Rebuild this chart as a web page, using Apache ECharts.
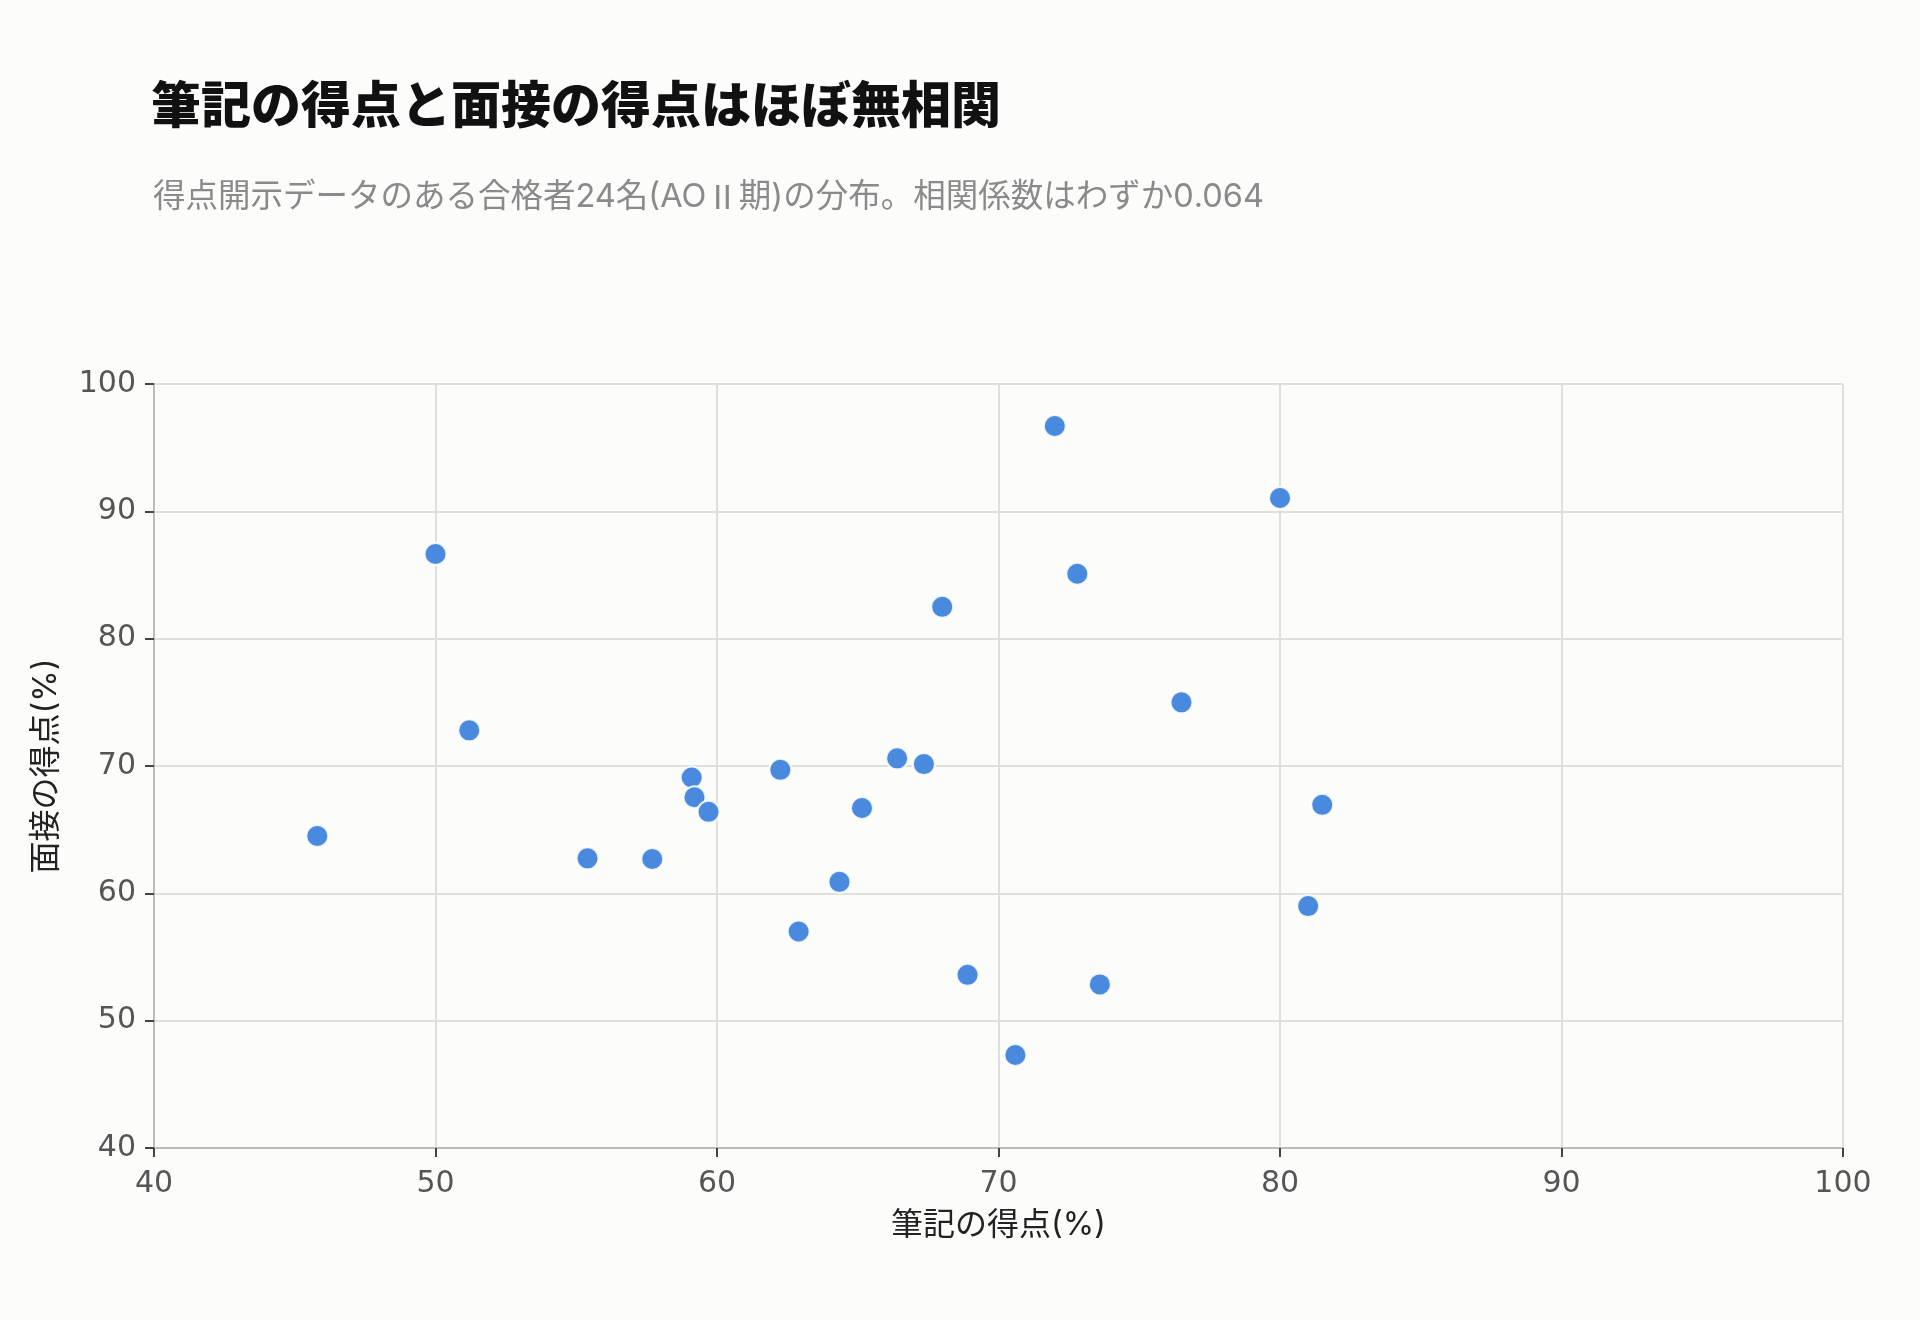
<!DOCTYPE html>
<html lang="ja">
<head>
<meta charset="utf-8">
<title>筆記と面接の得点</title>
<script src="https://cdn.jsdelivr.net/npm/echarts@6/dist/echarts.min.js"></script>
<style>
  html, body {
    margin: 0;
    padding: 0;
    background: #fcfcfa;
  }
  #chart {
    width: 1920px;
    height: 1320px;
  }
</style>
</head>
<body>
<div id="chart"></div>
<script>
// 筆記の得点(%) と 面接の得点(%)、合格者24名
const writtenScores = [
  72.0, 80.0, 50.0, 72.8, 68.0, 76.5, 51.2, 66.4,
  67.35, 62.25, 59.1, 59.2, 59.7, 81.5, 65.15, 45.8,
  55.4, 57.7, 64.35, 81.0, 62.9, 68.9, 73.6, 70.6
];
const interviewScores = [
  96.7, 91.05, 86.65, 85.1, 82.5, 75.0, 72.8, 70.6,
  70.15, 69.7, 69.1, 67.55, 66.4, 66.95, 66.7, 64.5,
  62.75, 62.7, 60.9, 59.0, 57.0, 53.6, 52.85, 47.3
];
const xTicks = [40, 100, 10];
const yTicks = [40, 100, 10];

const points = writtenScores.map((x, i) => [x, interviewScores[i]]);

const font = 'Inter, "Noto Sans CJK JP", sans-serif';
const cjkFont = '"Noto Sans CJK JP", sans-serif';
const numFont = '"DejaVu Sans", Inter, sans-serif';

const subStyle = { fontSize: 32.5, color: "#8a8a8a", lineHeight: 44 };

const option = {
  backgroundColor: "#fcfcfa",
  animation: false,
  textStyle: { fontFamily: font },
  title: [
    {
      text: "筆記の得点と面接の得点はほぼ無相関",
      left: 146,
      top: 74,
      textStyle: {
        fontFamily: cjkFont,
        fontSize: 50,
        fontWeight: 900,
        color: "#111",
      },
    },
    {
      text: "{t|得点開示データのある合格者24名(AO}{r|Ⅱ}{t|期)の分布。相関係数はわずか0.064}",
      left: 148,
      top: 170,
      textStyle: {
        fontFamily: font,
        fontSize: 32.5,
        fontWeight: "normal",
        color: "#8a8a8a",
        rich: {
          t: Object.assign({ fontFamily: font }, subStyle),
          r: Object.assign({ fontFamily: cjkFont }, subStyle),
        },
      },
    },
  ],
  grid: {
    left: 154,
    right: 77,
    top: 384,
    bottom: 172,
  },
  xAxis: {
    type: "value",
    min: xTicks[0],
    max: xTicks[1],
    interval: xTicks[2],
    name: "筆記の得点(%)",
    nameLocation: "middle",
    nameGap: 61,
    nameTextStyle: { fontSize: 32, color: "#222", fontFamily: font },
    axisLine: { show: true, lineStyle: { color: "#bdbdb5", width: 2 } },
    axisTick: { show: true, length: 9, lineStyle: { color: "#444", width: 2 } },
    axisLabel: { fontSize: 30, color: "#555", margin: 21, fontFamily: numFont },
    splitLine: { show: true, lineStyle: { color: "#e0e0da", width: 2 } },
  },
  yAxis: {
    type: "value",
    min: yTicks[0],
    max: yTicks[1],
    interval: yTicks[2],
    name: "面接の得点(%)",
    nameLocation: "middle",
    nameGap: 92,
    nameTextStyle: { fontSize: 32, color: "#222", fontFamily: font },
    axisLine: { show: true, lineStyle: { color: "#bdbdb5", width: 2 } },
    axisTick: { show: true, length: 9, lineStyle: { color: "#444", width: 2 } },
    axisLabel: { fontSize: 30, color: "#555", margin: 18, fontFamily: numFont },
    splitLine: { show: true, lineStyle: { color: "#e0e0da", width: 2 } },
  },
  series: [
    {
      type: "scatter",
      data: points,
      symbolSize: 22,
      itemStyle: {
        color: "#4a8ade",
        borderColor: "rgba(255,255,255,0.85)",
        borderWidth: 2,
        opacity: 1,
      },
    },
  ],
};

const dom = document.getElementById("chart");
echarts.init(dom, null, { renderer: "canvas" }).setOption(option);
</script>
</body>
</html>
